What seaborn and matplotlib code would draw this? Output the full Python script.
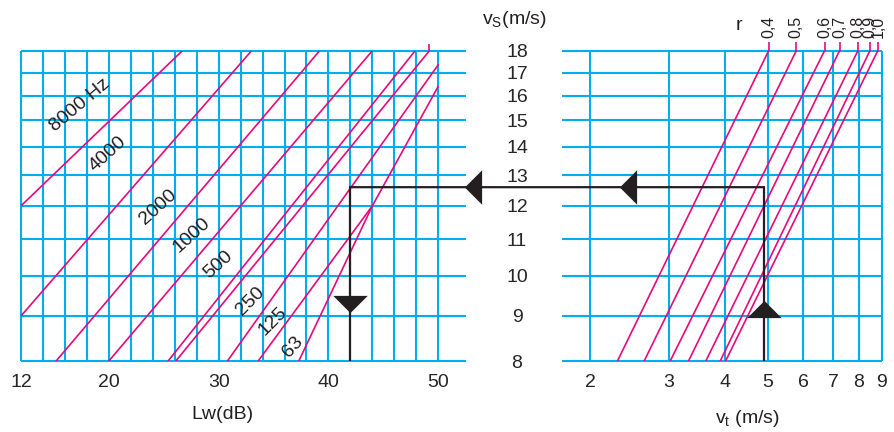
import pandas as pd
import matplotlib.pyplot as plt
import seaborn as sns
from matplotlib.ticker import NullLocator
from matplotlib.patches import ConnectionPatch

# === style ===
sns.set_style("white")
plt.rcParams["font.family"] = ["Liberation Sans", "DejaVu Sans"]
plt.rcParams["mathtext.fontset"] = "custom"
plt.rcParams["mathtext.rm"] = "Liberation Sans"
plt.rcParams["text.color"] = "#231F20"

CYAN = "#00AEEF"
MAGENTA = "#E5097F"
INK = "#231F20"

# === grid / axis values ===
lw_grid = list(range(12, 51, 2))
lw_ticks = [12, 20, 30, 40, 50]
vs_grid = [8, 9, 10, 11, 12, 13, 14, 15, 16, 17, 18]
vt_grid = [2, 3, 4, 5, 6, 7, 8, 9]

# === frequency lines, Lw (dB) vs vs (m/s) ===
freq_labels = ["8000 Hz", "4000", "2000", "1000", "500", "", "250", "125", "63"]
freq_lw = [[12.0, 26.7], [12.0, 33.0], [15.2, 39.2], [20.0, 44.0], [25.4, 47.9],
           [26.1, 49.2], [30.8, 50.0], [33.6, 44.0, 50.0], [37.3, 44.0]]
freq_vs = [[12.0, 18], [9.0, 18], [8, 18], [8, 18], [8, 18],
           [8, 18], [8, 17.35], [8, 12.0, 16.4], [8, 12.0]]
label_lw = [17.4, 19.9, 24.5, 27.5, 30.0, None, 32.9, 34.9, 36.8]
label_vs = [15.6, 13.75, 11.97, 11.12, 10.28, None, 9.35, 8.87, 8.30]
label_rot = [40, 42, 42, 42, 42, 0, 45, 45, 48]

# === r lines, vt (m/s) at vs = 8 and vs = 18 ===
r_labels = ["0,4", "0,5", "0,6", "0,7", "0,8", "0,9", "1,0"]
r_vt_bottom = [2.30, 2.64, 3.02, 3.32, 3.63, 3.91, 4.02]
r_vt_top = [5.02, 5.79, 6.70, 7.24, 7.96, 8.47, 8.82]

# === worked example ===
ex_lw = 42
ex_vs = 12.6
ex_vt = 4.9

rows = []
for i, (xs, ys) in enumerate(zip(freq_lw, freq_vs)):
    for x, y in zip(xs, ys):
        rows.append({"line": i, "Lw": x, "vs": y})
freq_df = pd.DataFrame(rows)

rows = []
for i, (lo, hi) in enumerate(zip(r_vt_bottom, r_vt_top)):
    rows.append({"r": r_labels[i], "vt": lo, "vs": 8})
    rows.append({"r": r_labels[i], "vt": hi, "vs": 18})
r_df = pd.DataFrame(rows)

fig = plt.figure(figsize=(8.95, 4.32), dpi=100)
ax1 = fig.add_axes([0.02346, 0.16435, 0.49687, 0.71829])
ax2 = fig.add_axes([0.62827, 0.16435, 0.35687, 0.71829])

for ax in (ax1, ax2):
    for s in ax.spines.values():
        s.set_visible(False)
    ax.set_yscale("log")
    ax.set_ylim(8, 18)

# --- left panel ---
ax1.set_xlim(12, 52.5)
ax1.vlines(lw_grid, 8, 18, colors=CYAN, lw=1.5, clip_on=False, zorder=1)
ax1.hlines(vs_grid, 12, 52.5, colors=CYAN, lw=1.5, clip_on=False, zorder=1)
sns.lineplot(data=freq_df, x="Lw", y="vs", units="line", estimator=None, sort=False,
             color=MAGENTA, linewidth=1.2, ax=ax1, zorder=2)
ax1.vlines([49.2], 18, 18.3, colors=MAGENTA, lw=1.2, clip_on=False)
for lbl, x, y, rot in zip(freq_labels, label_lw, label_vs, label_rot):
    if lbl:
        ax1.text(x, y, lbl, rotation=rot, rotation_mode="anchor", ha="center",
                 va="center", fontsize=14)
ax1.set_xticks(lw_ticks)
ax1.set_xticklabels([str(v) for v in lw_ticks])
ax1.yaxis.set_major_locator(NullLocator())
ax1.yaxis.set_minor_locator(NullLocator())
ax1.tick_params(axis="x", length=3.5, width=1.5, color=CYAN, labelsize=14, pad=6)
ax1.set_xlabel("")
ax1.set_ylabel("")
ax1.text(0.452, -0.174, "Lw(dB)", transform=ax1.transAxes, ha="center", va="center", fontsize=14)

# --- right panel ---
ax2.set_xscale("log")
ax2.set_xlim(1.73, 9)
ax2.vlines(vt_grid, 8, 18, colors=CYAN, lw=1.5, clip_on=False, zorder=1)
ax2.hlines(vs_grid, 1.73, 9, colors=CYAN, lw=1.5, clip_on=False, zorder=1)
sns.lineplot(data=r_df, x="vt", y="vs", units="r", estimator=None, sort=False,
             color=MAGENTA, linewidth=1.2, ax=ax2, zorder=2)
ax2.vlines(r_vt_top, 18, 18.4, colors=MAGENTA, lw=1.2, clip_on=False)
for lbl, x in zip(r_labels, r_vt_top):
    ax2.annotate(lbl, xy=(x, 18), xytext=(0, 9.5), textcoords="offset points",
                 rotation=90, ha="center", va="bottom", fontsize=11.5, annotation_clip=False)
ax2.set_xticks(vt_grid)
ax2.set_xticklabels([str(v) for v in vt_grid])
ax2.xaxis.set_minor_locator(NullLocator())
ax2.set_yticks(vs_grid)
ax2.set_yticklabels([str(v) for v in vs_grid])
ax2.yaxis.set_minor_locator(NullLocator())
ax2.tick_params(axis="x", length=3.5, width=1.5, color=CYAN, labelsize=14, pad=6)
ax2.tick_params(axis="y", length=0, labelsize=14, pad=32.6)
for t in ax2.get_yticklabels():
    t.set_horizontalalignment("center")
ax2.set_xlabel("")
ax2.set_ylabel("")
ax2.text(0.581, -0.184, r"v$_\mathrm{t}$ (m/s)", transform=ax2.transAxes,
         ha="center", va="center", fontsize=14)

fig.text(514 / 895, 1 - 20 / 432, r"v$_\mathrm{S}$(m/s)", ha="center", va="center", fontsize=14)
fig.text(739 / 895, 1 - 25 / 432, "r", ha="center", va="center", fontsize=14)

# --- worked example path ---
ax1.plot([ex_lw, ex_lw], [8, ex_vs], color=INK, lw=1.6, zorder=3)
ax2.plot([ex_vt, ex_vt], [8, ex_vs], color=INK, lw=1.6, zorder=3)
con = ConnectionPatch(xyA=(ex_lw, ex_vs), coordsA=ax1.transData,
                      xyB=(ex_vt, ex_vs), coordsB=ax2.transData, color=INK, lw=1.6, zorder=3)
fig.add_artist(con)

tri_down = [(-1, 0.5), (1, 0.5), (0, -0.5)]
tri_up = [(-1, -0.5), (1, -0.5), (0, 0.5)]
tri_left = [(0.5, 1), (0.5, -1), (-0.5, 0)]
ax1.plot(ex_lw, 9.29, marker=tri_down, ms=24.8, color=INK, mew=0, zorder=4)
ax2.plot(ex_vt, 9.17, marker=tri_up, ms=24.8, color=INK, mew=0, zorder=4)
ax2.plot(2.43, ex_vs, marker=tri_left, ms=24.8, color=INK, mew=0, zorder=4)
ax2.plot(1.09, ex_vs, marker=tri_left, ms=24.8, color=INK, mew=0, zorder=4, clip_on=False)

fig.savefig("out.png", dpi=100)
